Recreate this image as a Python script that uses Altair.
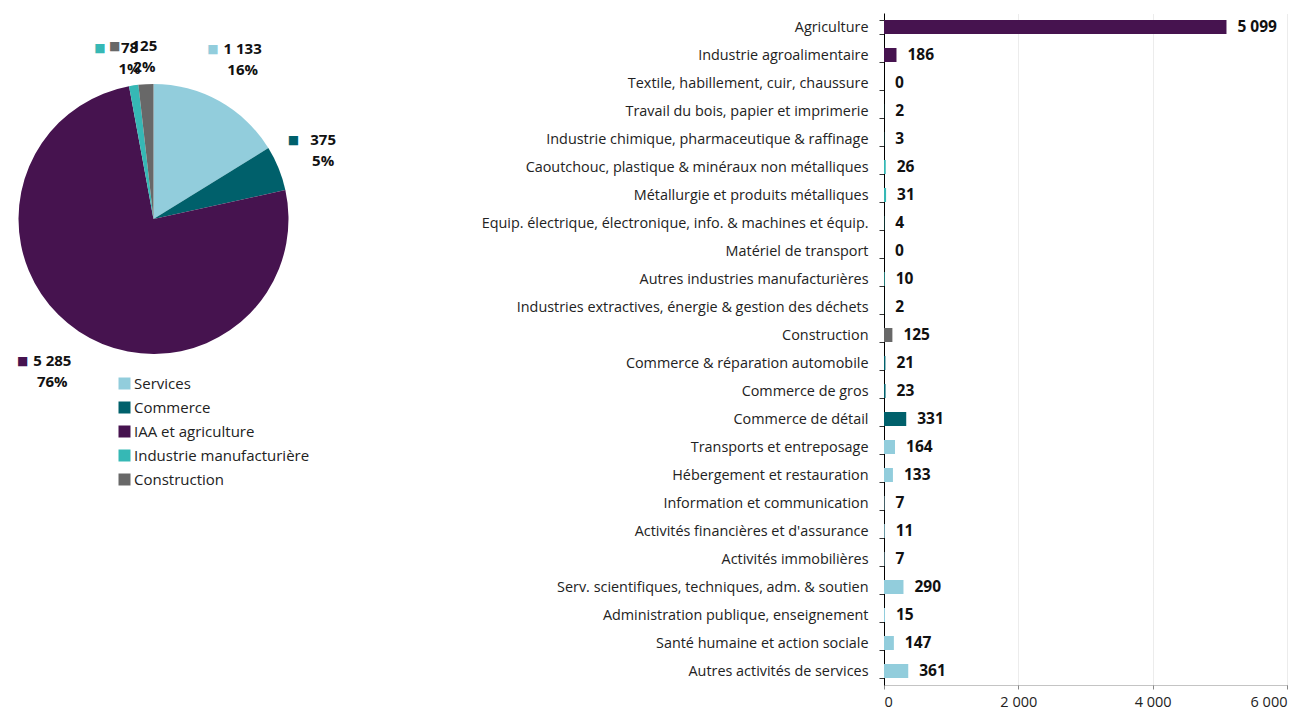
import math
import altair as alt
import pandas as pd

FONT = "Open Sans"

# ---- Pie data (by group) ----
groups = ["Services", "Commerce", "IAA et agriculture", "Industrie manufacturière", "Construction"]
group_values = [1133, 375, 5285, 78, 125]
group_pcts = ["16%", "5%", "76%", "1%", "2%"]
group_colors = ["#92CDDC", "#00606B", "#46134F", "#36B8B5", "#686868"]

# ---- Bar data (by sector) ----
sectors = [
    "Agriculture",
    "Industrie agroalimentaire",
    "Textile, habillement, cuir, chaussure",
    "Travail du bois, papier et imprimerie ",
    "Industrie chimique, pharmaceutique & raffinage",
    "Caoutchouc, plastique & minéraux non métalliques",
    "Métallurgie et produits métalliques",
    "Equip. électrique, électronique, info. & machines et équip.",
    "Matériel de transport",
    "Autres industries manufacturières",
    "Industries extractives, énergie & gestion des déchets",
    "Construction ",
    "Commerce & réparation automobile",
    "Commerce de gros",
    "Commerce de détail",
    "Transports et entreposage",
    "Hébergement et restauration",
    "Information et communication",
    "Activités financières et d'assurance",
    "Activités immobilières",
    "Serv. scientifiques, techniques, adm. & soutien",
    "Administration publique, enseignement",
    "Santé humaine et action sociale",
    "Autres activités de services",
]
sector_values = [5099, 186, 0, 2, 3, 26, 31, 4, 0, 10, 2, 125, 21, 23, 331,
                 164, 133, 7, 11, 7, 290, 15, 147, 361]
sector_groups = (["IAA et agriculture"] * 2 + ["Industrie manufacturière"] * 9 +
                 ["Construction"] + ["Commerce"] * 3 + ["Services"] * 9)


def fr(n):
    return f"{n:,}".replace(",", " ")


TOTAL = sum(group_values)

pie_df = pd.DataFrame({
    "groupe": groups,
    "valeur": group_values,
    "pct": group_pcts,
    "ordre": list(range(len(groups))),
    "val_txt": [fr(v) for v in group_values],
})

bar_df = pd.DataFrame({
    "secteur": sectors,
    "valeur": sector_values,
    "groupe": sector_groups,
    "val_txt": [fr(v) for v in sector_values],
})

CX, CY = 140.5, 206
R_BIG, R_SMALL = 183, 163   # label distance for large / small slices

color_pie = alt.Color(
    "groupe:N",
    scale=alt.Scale(domain=groups, range=group_colors),
    legend=alt.Legend(
        title=None, orient="none", legendX=104, legendY=363,
        symbolType="square", symbolSize=144, symbolStrokeWidth=0,
        labelFont=FONT, labelFontSize=15, labelColor="#222222", labelLimit=400,
        rowPadding=8, labelOffset=2, padding=0,
    ),
)

theta_scale = alt.Scale(domain=[0, TOTAL], range=[0, 2 * math.pi])

pie_base = (
    alt.Chart(pie_df)
    .transform_window(cum="sum(valeur)", sort=[alt.SortField("ordre")])
    .transform_calculate(start="datum.cum - datum.valeur", mid="datum.cum - datum.valeur / 2")
    .encode(x=alt.value(CX), y=alt.value(CY))
)

arcs = pie_base.mark_arc(outerRadius=135).encode(
    theta=alt.Theta("start:Q", scale=theta_scale),
    theta2="cum:Q",
    color=color_pie,
)


def label_layers(flt, r):
    b = pie_base.transform_filter(flt).encode(theta=alt.Theta("mid:Q", scale=theta_scale))
    sq = b.mark_text(radius=r, dy=-10, dx=-24, align="right", font="DejaVu Sans", fontSize=12).encode(
        text=alt.value("■"), color=color_pie)
    v = b.mark_text(radius=r, dy=-10, align="center", font=FONT, fontSize=15,
                    fontWeight="bold", color="#111111").encode(text="val_txt:N")
    p = b.mark_text(radius=r, dy=11, align="center", font=FONT, fontSize=15,
                    fontWeight="bold", color="#111111").encode(text="pct:N")
    return [sq, v, p]


big_flt = f"datum.valeur / {TOTAL} >= 0.03"
small_flt = f"datum.valeur / {TOTAL} < 0.03"

pie = alt.layer(
    arcs, *label_layers(big_flt, R_BIG), *label_layers(small_flt, R_SMALL)
).properties(width=340, height=672)

# ---- Bars ----
color_bar = alt.Color(
    "groupe:N",
    scale=alt.Scale(domain=groups, range=group_colors),
    legend=None,
)

y_enc = alt.Y(
    "secteur:N", sort=sectors, title=None,
    scale=alt.Scale(paddingInner=0.5, paddingOuter=0.25),
    axis=alt.Axis(
        domainColor="#000000", tickColor="#333333", tickSize=5, tickBand="extent",
        labelFont=FONT, labelFontSize=14.4, labelColor="#222222", labelPadding=11,
        labelLimit=600, minExtent=531, maxExtent=531, grid=False,
    ),
)
x_enc = alt.X(
    "valeur:Q", title=None,
    scale=alt.Scale(domain=[0, 6000], nice=False),
    axis=alt.Axis(
        values=[0, 2000, 4000, 6000],
        labelExpr="replace(format(datum.value, ','), ',', ' ')",
        grid=True, gridColor="#d9d9d9", gridDash=[1, 1],
        domainColor="#888888", domainDash=[1, 1],
        tickColor="#888888", tickSize=4,
        labelFont=FONT, labelFontSize=14.5, labelColor="#222222", labelPadding=6,
    ),
)

bar_base = alt.Chart(bar_df).encode(y=y_enc, x=x_enc)
bars = bar_base.mark_bar().encode(color=color_bar)
bar_labels = bar_base.mark_text(
    align="left", dx=11, font=FONT, fontSize=15.5, fontWeight="bold", color="#111111"
).encode(text="val_txt:N")

bar_chart = alt.layer(bars, bar_labels).properties(width=403, height=672)

chart = (
    alt.hconcat(pie, bar_chart, spacing=0)
    .resolve_scale(color="independent")
    .properties(padding={"left": 5, "top": -3, "right": 0, "bottom": 0})
    .configure_view(stroke=None)
)

chart.save("out.html", embed_options={"renderer": "svg", "actions": False})
